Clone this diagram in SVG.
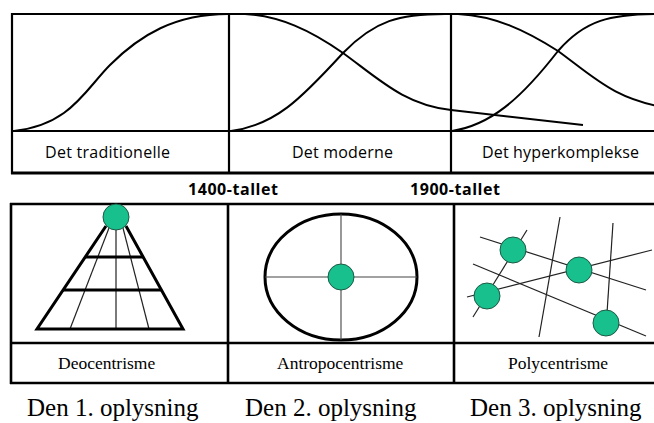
<svg xmlns="http://www.w3.org/2000/svg" width="654" height="423" viewBox="0 0 654 423">
<style>
.frame{fill:none;stroke:#000;stroke-width:2.2}
.curve{fill:none;stroke:#000;stroke-width:2}
.thick{fill:none;stroke:#000;stroke-width:3}
.thin{fill:none;stroke:#222;stroke-width:1.2}
.gray{fill:none;stroke:#444;stroke-width:1.1}
.dot{fill:#17c08c;stroke:#1d5a44;stroke-width:1}
.sans{font-family:"Open Sans","Liberation Sans",sans-serif;font-size:16px;fill:#000}
.year{font-family:"Open Sans","Liberation Sans",sans-serif;font-size:16px;font-weight:bold;fill:#000}
.serif{font-family:"Liberation Serif","Times New Roman",serif;font-size:17.5px;fill:#000}
.big{font-family:"Liberation Serif","Times New Roman",serif;font-size:25px;fill:#000}
</style>
<rect width="654" height="423" fill="#fff"/>
<g id="top-frame">
<line class="frame" x1="11" y1="14" x2="654" y2="14"/>
<line class="frame" x1="11" y1="131" x2="654" y2="131"/>
<line class="frame" x1="11" y1="173" x2="654" y2="173" style="stroke-width:2.8"/>
<line class="frame" x1="12" y1="13" x2="12" y2="174"/>
<line class="frame" x1="229" y1="13" x2="229" y2="174"/>
<line class="frame" x1="451" y1="13" x2="451" y2="174"/>
</g>
<g id="curves">
<path class="curve" d="M 14 131 C 70 125, 85 90, 110 65 C 140 35, 175 14, 228 14"/>
<path class="curve" d="M 231 131 C 275 125, 300 100, 343 53 C 375 20, 400 14, 445 14"/>
<path class="curve" d="M 245 14 C 280 16, 310 30, 343 53 C 380 80, 405 105, 451 110 L 583 125"/>
<path class="curve" d="M 458 14 C 495 16, 525 30, 558 51 C 595 78, 615 100, 669 108"/>
<path class="curve" d="M 452 131 C 490 125, 520 100, 558 51 C 585 20, 610 14, 660 14"/>
</g>
<g id="top-labels">
<text class="sans" x="45" y="158" textLength="125" lengthAdjust="spacing">Det traditionelle</text>
<text class="sans" x="292" y="158" textLength="101" lengthAdjust="spacing">Det moderne</text>
<text class="sans" x="482" y="158" textLength="157" lengthAdjust="spacing">Det hyperkomplekse</text>
<text class="year" x="188" y="195" textLength="90" lengthAdjust="spacing">1400-tallet</text>
<text class="year" x="410" y="195" textLength="90" lengthAdjust="spacing">1900-tallet</text>
</g>
<g id="bottom-frame">
<line class="frame" x1="10" y1="204" x2="654" y2="204" style="stroke-width:2.6"/>
<line class="frame" x1="10" y1="343" x2="654" y2="343" style="stroke-width:2.6"/>
<line class="frame" x1="10" y1="383" x2="654" y2="383" style="stroke-width:2.6"/>
<line class="frame" x1="11" y1="203" x2="11" y2="384" style="stroke-width:2.6"/>
<line class="frame" x1="228" y1="203" x2="228" y2="384" style="stroke-width:2.6"/>
<line class="frame" x1="454" y1="203" x2="454" y2="384" style="stroke-width:2.6"/>
</g>
<g id="deocentrisme">
<line class="thin" x1="109" y1="228" x2="70" y2="329"/>
<line class="thin" x1="116" y1="228" x2="116" y2="329"/>
<line class="thin" x1="123" y1="228" x2="149" y2="329"/>
<polyline class="thick" points="106,226 37,329 183,329 126,226"/>
<line class="thick" x1="85" y1="257" x2="143" y2="257"/>
<line class="thick" x1="63" y1="290" x2="162" y2="290"/>
<circle class="dot" cx="116" cy="217" r="13"/>
<text class="serif" x="58" y="369">Deocentrisme</text>
</g>
<g id="antropocentrisme">
<ellipse class="thick" cx="341" cy="277" rx="76" ry="63"/>
<line class="gray" x1="265" y1="277" x2="417" y2="277"/>
<line class="gray" x1="341" y1="214" x2="341" y2="340"/>
<circle class="dot" cx="341" cy="277" r="13"/>
<text class="serif" x="277" y="369">Antropocentrisme</text>
</g>
<g id="polycentrisme">
<line class="thin" x1="480" y1="237" x2="646" y2="290"/>
<line class="thin" x1="473" y1="264" x2="646" y2="336"/>
<line class="thin" x1="467" y1="297" x2="652" y2="250"/>
<line class="thin" x1="473" y1="317" x2="527" y2="230"/>
<line class="thin" x1="560" y1="217" x2="539" y2="337"/>
<line class="thin" x1="613" y1="223" x2="607" y2="313"/>
<circle class="dot" cx="513" cy="250" r="13"/>
<circle class="dot" cx="579" cy="270" r="13"/>
<circle class="dot" cx="487" cy="296" r="13"/>
<circle class="dot" cx="606" cy="323" r="13"/>
<text class="serif" x="508" y="369">Polycentrisme</text>
</g>
<g id="captions">
<text class="big" x="27" y="416">Den 1. oplysning</text>
<text class="big" x="245" y="416">Den 2. oplysning</text>
<text class="big" x="470" y="416">Den 3. oplysning</text>
</g>
</svg>
